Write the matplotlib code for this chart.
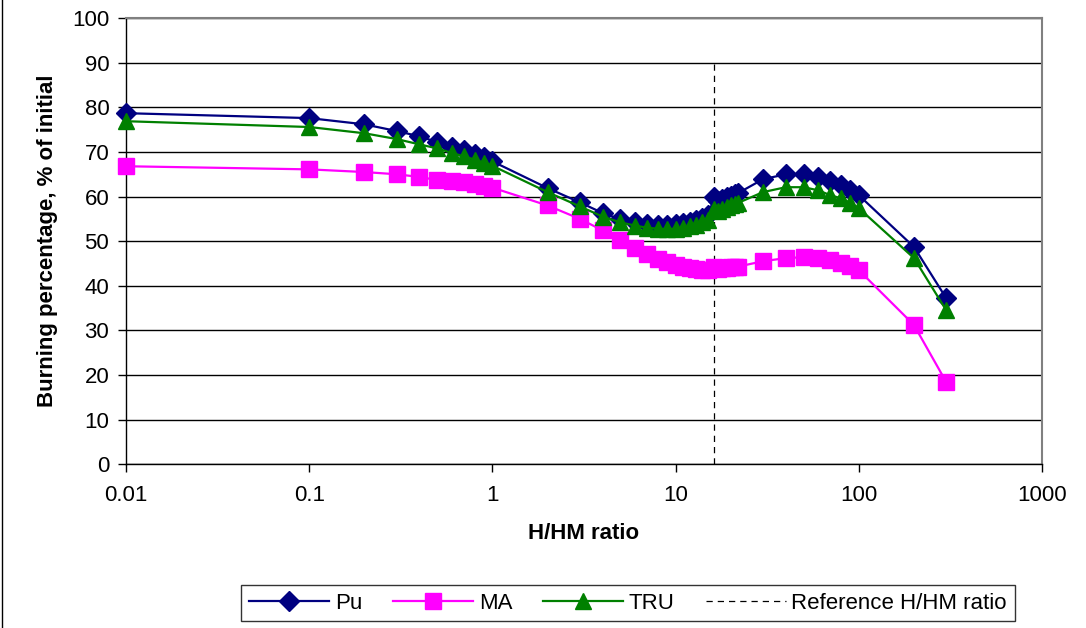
import numpy as np
import matplotlib
matplotlib.use("Agg")
import matplotlib.pyplot as plt
from matplotlib.lines import Line2D

plt.rcParams['font.family'] = ['Liberation Sans', 'DejaVu Sans']

# H/HM ratio points of the calculation
hhm = [0.01, 0.1, 0.2, 0.3, 0.4, 0.5, 0.6, 0.7, 0.8, 0.9, 1,
       2, 3, 4, 5, 6, 7, 8, 9, 10, 11, 12, 13, 14, 15, 16.3,
       17, 18, 19, 20, 21, 22, 30, 40, 50, 60, 70, 80, 90, 100, 200, 300]

pu = [78.7, 77.6, 76.2, 74.7, 73.5, 72.2, 71.1, 70.4, 69.5, 68.8, 67.9,
      61.9, 58.7, 56.3, 54.9, 54.3, 53.8, 53.6, 53.6, 53.8, 54.0, 54.4, 54.8, 55.3, 55.9, 59.8,
      59.0, 59.4, 59.8, 60.2, 60.5, 60.8, 63.9, 65.0, 65.0, 64.3, 63.5, 62.6, 61.4, 60.3, 48.7, 37.2]

ma = [66.8, 66.1, 65.5, 65.0, 64.4, 63.7, 63.4, 63.2, 62.8, 62.4, 62.0,
      58.0, 55.0, 52.4, 50.3, 48.5, 47.1, 46.1, 45.3, 44.7, 44.2, 43.9, 43.7, 43.6, 43.6, 44.2,
      43.8, 43.9, 44.0, 44.1, 44.2, 44.3, 45.5, 46.2, 46.4, 46.2, 45.8, 45.1, 44.4, 43.5, 31.2, 18.4]

tru = [76.9, 75.6, 74.2, 72.9, 71.7, 70.8, 69.8, 69.0, 68.3, 67.6, 66.9,
       61.0, 57.8, 55.5, 54.2, 53.5, 53.0, 52.8, 52.7, 52.8, 53.0, 53.3, 53.7, 54.2, 54.8, 57.3,
       56.8, 57.2, 57.6, 58.0, 58.3, 58.6, 61.0, 62.1, 62.1, 61.4, 60.3, 59.6, 58.5, 57.4, 46.2, 34.5]

ref_hhm = 16.3

fig = plt.figure(figsize=(10.86, 6.28), dpi=100)
ax = fig.add_axes([0.116, 0.261, 0.8435, 0.710])

ax.plot(hhm, pu, color='#000080', lw=1.6, marker='D', ms=10, label='Pu', clip_on=False, zorder=5)
ax.plot(hhm, ma, color='#FF00FF', lw=1.6, marker='s', ms=11, label='MA', clip_on=False, zorder=4)
ax.plot(hhm, tru, color='#008000', lw=1.6, marker='^', ms=12, label='TRU', clip_on=False, zorder=6)
ax.plot([ref_hhm, ref_hhm], [0, 90], color='black', lw=0.9, ls=(0, (5, 4)),
        label='Reference H/HM ratio')

ax.set_xscale('log')
ax.set_xlim(0.01, 1000)
ax.set_ylim(0, 100)
ax.set_xticks([0.01, 0.1, 1, 10, 100, 1000])
ax.set_xticklabels(['0.01', '0.1', '1', '10', '100', '1000'])
ax.xaxis.set_minor_locator(matplotlib.ticker.NullLocator())
ax.set_yticks(np.arange(0, 101, 10))
ax.yaxis.grid(True, color='black', lw=1.0)
ax.set_axisbelow(True)

ax.tick_params(axis='both', labelsize=16, direction='out', length=6, width=1, color='black')
ax.tick_params(axis='x', pad=9)
ax.tick_params(axis='y', pad=6)
ax.set_xlabel('H/HM ratio', fontsize=16, fontweight='bold', labelpad=12)
ax.set_ylabel('Burning percentage, % of initial', fontsize=16, fontweight='bold', labelpad=10)

for side in ['top', 'right']:
    ax.spines[side].set_color('#808080')
    ax.spines[side].set_linewidth(1.5)
for side in ['left', 'bottom']:
    ax.spines[side].set_color('black')
    ax.spines[side].set_linewidth(1.0)

leg = fig.legend(loc='center', bbox_to_anchor=(0.5783, 0.0398), ncol=4, fontsize=16,
                 frameon=True, fancybox=False, edgecolor='black', handlelength=3.6,
                 columnspacing=1.4, handletextpad=0.25, borderpad=0.35)
leg.get_frame().set_linewidth(1.0)

# thin frame line down the left edge of the chart area
fig.add_artist(Line2D([0.002, 0.002], [0, 1], color='black', lw=1.0, transform=fig.transFigure))

fig.savefig('out.png', dpi=100)
